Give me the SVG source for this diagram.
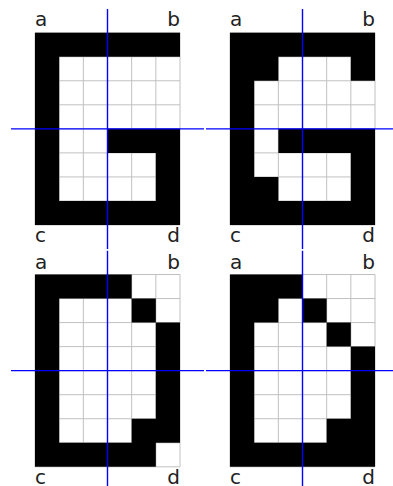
<svg xmlns="http://www.w3.org/2000/svg" width="393" height="486" viewBox="0 0 393 486">
<style>
.bg{fill:#ffffff}
.grid{stroke:#c0c0c0;stroke-width:1;fill:none}
.ink{fill:#000000}
.axis{stroke:#0000ff;stroke-width:1.4;fill:none}
.lbl{font-family:"DejaVu Sans",sans-serif;font-size:20px;fill:#222222}
.end{text-anchor:end}
</style>
<defs>
<g id="gridlines">
<rect x="0" y="0" width="145" height="192.3" class="bg"/>
<path class="grid" d="M0 0V192.3M24.17 0V192.3M48.33 0V192.3M72.5 0V192.3M96.67 0V192.3M120.83 0V192.3M145 0V192.3M0 0H145M0 24.04H145M0 48.08H145M0 72.11H145M0 96.15H145M0 120.19H145M0 144.23H145M0 168.26H145M0 192.3H145"/>
</g>
</defs>
<rect width="393" height="486" fill="#ffffff"/>
<g id="panel-top-left" transform="translate(35,32.7)">
<use href="#gridlines"/>
<path class="ink" transform="scale(24.1667,24.0375)" d="M0 0h6v1h-6zM0 0h1v8h-1zM3 4h3v1h-3zM5 4h1v4h-1zM0 7h6v1h-6z"/>
<text class="lbl" x="0" y="-6.7">a</text>
<text class="lbl end" x="145" y="-6.7">b</text>
<text class="lbl" x="0" y="209.3">c</text>
<text class="lbl end" x="145" y="209.3">d</text>
</g>
<g id="panel-top-right" transform="translate(230,32.7)">
<use href="#gridlines"/>
<path class="ink" transform="scale(24.1667,24.0375)" d="M0 0h6v1h-6zM0 0h1v8h-1zM1 1h1v1h-1zM5 1h1v1h-1zM2 4h4v1h-4zM5 4h1v4h-1zM1 6h1v1h-1zM0 7h6v1h-6z"/>
<text class="lbl" x="0" y="-6.7">a</text>
<text class="lbl end" x="145" y="-6.7">b</text>
<text class="lbl" x="0" y="209.3">c</text>
<text class="lbl end" x="145" y="209.3">d</text>
</g>
<g id="panel-bottom-left" transform="translate(35,274.5)">
<use href="#gridlines"/>
<path class="ink" transform="scale(24.1667,24.0375)" d="M0 0h4v1h-4zM0 0h1v8h-1zM4 1h1v1h-1zM5 2h1v5h-1zM4 6h1v1h-1zM0 7h5v1h-5z"/>
<text class="lbl" x="0" y="-5.2">a</text>
<text class="lbl end" x="145" y="-5.2">b</text>
<text class="lbl" x="0" y="209.5">c</text>
<text class="lbl end" x="145" y="209.5">d</text>
</g>
<g id="panel-bottom-right" transform="translate(230,274.5)">
<use href="#gridlines"/>
<path class="ink" transform="scale(24.1667,24.0375)" d="M0 0h3v1h-3zM0 0h1v8h-1zM1 1h1v1h-1zM3 1h1v1h-1zM4 2h1v1h-1zM5 3h1v5h-1zM4 6h1v1h-1zM0 7h6v1h-6z"/>
<text class="lbl" x="0" y="-5.2">a</text>
<text class="lbl end" x="145" y="-5.2">b</text>
<text class="lbl" x="0" y="209.5">c</text>
<text class="lbl end" x="145" y="209.5">d</text>
</g>
<g id="connectors">
<path class="axis" d="M107.5 9V249M11 128.85H204"/>
<path class="axis" d="M302.5 9V249M206 128.85H399"/>
<path class="axis" d="M107.5 250.7V490M11 370.65H204"/>
<path class="axis" d="M302.5 250.7V490M206 370.65H399"/>
</g>
</svg>
